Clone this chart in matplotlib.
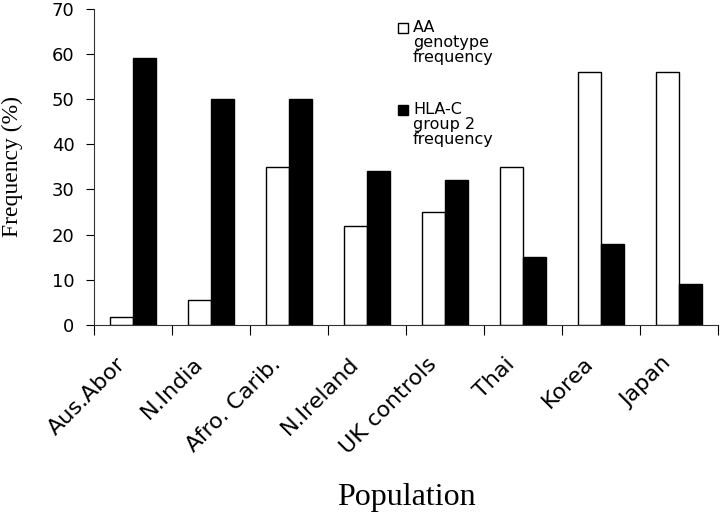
import matplotlib.pyplot as plt
import matplotlib.transforms as mtransforms
from matplotlib.patches import Rectangle
import numpy as np

populations = ['Aus.Abor', 'N.India', 'Afro. Carib.', 'N.Ireland', 'UK controls', 'Thai', 'Korea', 'Japan']
aa_genotype = [1.7, 5.5, 35, 22, 25, 35, 56, 56]
hla_c_group2 = [59, 50, 50, 34, 32, 15, 18, 9]
legend_labels = ['AA\ngenotype\nfrequency', 'HLA-C\ngroup 2\nfrequency']

W, H = 720, 512
fig = plt.figure(figsize=(W / 100, H / 100), dpi=100)
ax = fig.add_axes([94 / W, 1 - 325 / H, 624 / W, (325 - 8.5) / H])

x = np.arange(len(populations))
w = 0.295
bars_aa = ax.bar(x - w / 2, aa_genotype, w, color='white', edgecolor='black', linewidth=1)
bars_hla = ax.bar(x + w / 2, hla_c_group2, w, color='black', edgecolor='black', linewidth=1)

ax.set_xlim(-0.5, len(populations) - 0.5)
ax.set_ylim(0, 70)
ax.set_yticks(range(0, 71, 10))
ax.tick_params(axis='y', labelsize=13, length=6, width=0.8, direction='out', pad=8)

# boundary ticks as major, labels sit on minor ticks at the centres
ax.set_xticks(np.arange(-0.5, len(populations) + 0.5, 1))
ax.set_xticklabels([])
ax.tick_params(axis='x', which='major', length=7, width=0.8, direction='out')
ax.set_xticks(x, minor=True)
ax.set_xticklabels(populations, minor=True, rotation=45, ha='right',
                   rotation_mode='anchor', fontsize=16)
ax.tick_params(axis='x', which='minor', length=0, pad=14)
shift = mtransforms.ScaledTranslation(-13 / 72, -6.5 / 72, fig.dpi_scale_trans)
for lab in ax.get_xticklabels(minor=True):
    lab.set_transform(lab.get_transform() + shift)

for s in ['top', 'right']:
    ax.spines[s].set_visible(False)
for s in ['left', 'bottom']:
    ax.spines[s].set_linewidth(0.8)
    ax.spines[s].set_color('#333333')

ax.set_ylabel('Frequency (%)', family='Liberation Serif', fontsize=17)
ax.yaxis.set_label_coords(-0.114, 0.5)
ax.set_xlabel('Population', family='Liberation Serif', fontsize=23)
ax.xaxis.set_label_coords(0.5, -0.499)

# legend: square marker next to first line of each label
for (top, face), label in zip([(23, 'white'), (105, 'black')], legend_labels):
    fig.patches.append(Rectangle((398 / W, 1 - (top + 10) / H), 10 / W, 10 / H,
                                 transform=fig.transFigure, facecolor=face,
                                 edgecolor='black', linewidth=1))
    fig.text(413 / W, 1 - (top - 3) / H, label, fontsize=11.5, va='top', ha='left',
             linespacing=1.02)

plt.savefig('out.png', dpi=100)
